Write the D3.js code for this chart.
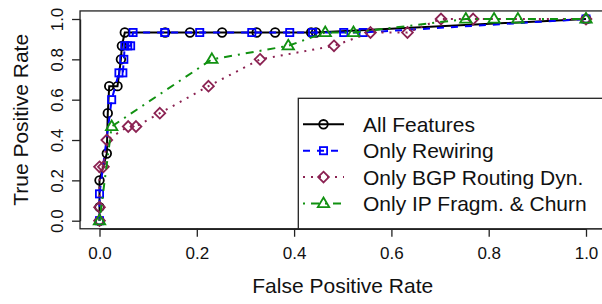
<!DOCTYPE html>
<html>
<head>
<meta charset="utf-8">
<script src="https://cdn.jsdelivr.net/npm/d3@7"></script>
<style>
  body { margin: 0; background: #fff; }
  svg { display: block; font-family: "Liberation Sans", Arial, Helvetica, sans-serif; }
</style>
</head>
<body>
<div id="chart"></div>
<script>
// ---------------------------------------------------------------
// Data
// ---------------------------------------------------------------
const series_names = ['All Features', 'Only Rewiring', 'Only BGP Routing Dyn.', 'Only IP Fragm. & Churn'];

const all_fpr = [0, 0, 0, 0.015, 0.017, 0.02, 0.037, 0.044, 0.046, 0.052, 0.135, 0.186, 0.252, 0.323, 0.361, 0.435, 0.445, 1];
const all_tpr = [0, 0.067, 0.2, 0.333, 0.533, 0.667, 0.667, 0.8, 0.867, 0.933, 0.933, 0.933, 0.933, 0.933, 0.933, 0.933, 0.933, 1];

const rew_fpr = [0, 0, 0.025, 0.04, 0.048, 0.05, 0.052, 0.058, 0.064, 0.069, 0.134, 0.206, 0.313, 0.391, 0.438, 0.502, 0.542, 1];
const rew_tpr = [0, 0.133, 0.6, 0.733, 0.733, 0.8, 0.867, 0.867, 0.867, 0.933, 0.933, 0.933, 0.933, 0.933, 0.933, 0.933, 0.933, 1];

const bgp_fpr = [0, 0, 0, 0.008, 0.015, 0.059, 0.075, 0.124, 0.224, 0.330, 0.482, 0.557, 0.633, 0.702, 0.768, 1];
const bgp_tpr = [0, 0.067, 0.267, 0.267, 0.4, 0.467, 0.467, 0.533, 0.667, 0.8, 0.867, 0.933, 0.933, 1, 1, 1];

const ipf_fpr = [0, 0.025, 0.231, 0.388, 0.464, 0.522, 0.753, 0.811, 0.86, 1];
const ipf_tpr = [0, 0.467, 0.8, 0.867, 0.933, 0.933, 1, 1, 1, 1];

const tick_values = [0, 0.2, 0.4, 0.6, 0.8, 1.0];

// ---------------------------------------------------------------
// Styling per series
// ---------------------------------------------------------------
const styles = [
  {color: '#000000', dash: null,        marker: 'circle'},
  {color: '#0000ff', dash: '7,7',       marker: 'square'},
  {color: '#8b2252', dash: '2,6',       marker: 'diamond'},
  {color: '#119111', dash: '2,6,8,6',   marker: 'triangle'},
];

const series = [
  {fpr: all_fpr, tpr: all_tpr},
  {fpr: rew_fpr, tpr: rew_tpr},
  {fpr: bgp_fpr, tpr: bgp_tpr},
  {fpr: ipf_fpr, tpr: ipf_tpr},
].map((s, i) => ({
  name: series_names[i],
  style: styles[i],
  points: s.fpr.map((f, j) => ({fpr: f, tpr: s.tpr[j]}))
}));

const width = 602, height = 304;

const x = d3.scaleLinear().domain([0, 1]).range([99.5, 586]);
const y = d3.scaleLinear().domain([0, 1]).range([220.7, 19]);

const svg = d3.select('#chart').append('svg')
  .attr('width', width)
  .attr('height', height);

// plot box (R adds 4% on each side)
const box = {x0: x(-0.04), x1: x(1.04), y0: y(1.04), y1: y(-0.04)};

svg.append('rect')
  .attr('x', box.x0)
  .attr('y', box.y0)
  .attr('width', box.x1 - box.x0)
  .attr('height', box.y1 - box.y0)
  .attr('fill', 'none')
  .attr('stroke', '#222')
  .attr('stroke-width', 1.3);

// axes
const x_axis = svg.append('g')
  .attr('transform', `translate(0,${box.y1})`)
  .call(d3.axisBottom(x).tickValues(tick_values).tickFormat(d3.format('.1f')).tickSize(8).tickSizeOuter(0).tickPadding(6));

const y_axis = svg.append('g')
  .attr('transform', `translate(${box.x0},0)`)
  .call(d3.axisLeft(y).tickValues(tick_values).tickFormat(d3.format('.1f')).tickSize(8).tickSizeOuter(0));

[x_axis, y_axis].forEach(g => {
  g.select('.domain').attr('stroke', '#222').attr('stroke-width', 1.3);
  g.selectAll('.tick line').attr('stroke', '#222').attr('stroke-width', 1.3);
  g.selectAll('.tick text')
    .attr('fill', '#111')
    .style('font-size', '17px')
    .style('font-family', '"Liberation Sans", Arial, sans-serif');
});

x_axis.selectAll('.tick text').attr('dy', null).attr('y', 30);

y_axis.selectAll('.tick text')
  .attr('x', null)
  .attr('dy', null)
  .attr('text-anchor', 'middle')
  .attr('transform', 'translate(-17,0) rotate(-90)');

// axis titles
svg.append('text')
  .attr('x', (box.x0 + box.x1) / 2)
  .attr('y', 293)
  .attr('text-anchor', 'middle')
  .style('font-size', '21px')
  .attr('fill', '#111')
  .text('False Positive Rate');

svg.append('text')
  .attr('transform', `translate(28,${(box.y0 + box.y1) / 2}) rotate(-90)`)
  .attr('text-anchor', 'middle')
  .style('font-size', '21px')
  .attr('fill', '#111')
  .text('True Positive Rate');

// markers
function draw_marker(g, type, cx, cy, color) {
  const sw = 1.8;
  if (type === 'circle') {
    g.append('circle').attr('cx', cx).attr('cy', cy).attr('r', 4.3)
      .attr('fill', 'none').attr('stroke', color).attr('stroke-width', sw);
  } else if (type === 'square') {
    g.append('rect').attr('x', cx - 3.6).attr('y', cy - 3.6).attr('width', 7.2).attr('height', 7.2)
      .attr('fill', 'none').attr('stroke', color).attr('stroke-width', sw);
  } else if (type === 'diamond') {
    const r = 5.4;
    g.append('path').attr('d', `M${cx},${cy - r}L${cx + r},${cy}L${cx},${cy + r}L${cx - r},${cy}Z`)
      .attr('fill', 'none').attr('stroke', color).attr('stroke-width', sw);
  } else {
    const r = 6;
    g.append('path').attr('d', `M${cx},${cy - r}L${cx + r * 0.95},${cy + r * 0.6}L${cx - r * 0.95},${cy + r * 0.6}Z`)
      .attr('fill', 'none').attr('stroke', color).attr('stroke-width', sw);
  }
}

const line = d3.line().x(d => x(d.fpr)).y(d => y(d.tpr));

const plot = svg.append('g');
series.forEach(s => {
  const g = plot.append('g');
  g.append('path')
    .datum(s.points)
    .attr('d', line)
    .attr('fill', 'none')
    .attr('stroke', s.style.color)
    .attr('stroke-width', 2)
    .attr('stroke-dasharray', s.style.dash);
  s.points.forEach(p => draw_marker(g, s.style.marker, x(p.fpr), y(p.tpr), s.style.color));
});

// legend (bottom right, inset 0)
const legend = svg.append('g');
legend.append('rect')
  .attr('x', 298.3)
  .attr('y', 98.3)
  .attr('width', box.x1 - 298.3)
  .attr('height', box.y1 - 98.3)
  .attr('fill', '#fff')
  .attr('stroke', '#222')
  .attr('stroke-width', 1.3);

series.forEach((s, i) => {
  const ry = 124.3 + i * 26.4;
  const g = legend.append('g');
  g.append('line')
    .attr('x1', 303).attr('x2', 344)
    .attr('y1', ry).attr('y2', ry)
    .attr('stroke', s.style.color)
    .attr('stroke-width', 2)
    .attr('stroke-dasharray', s.style.dash);
  draw_marker(g, s.style.marker, 323.5, ry, s.style.color);
  g.append('text')
    .attr('x', 363)
    .attr('y', ry + 7.5)
    .style('font-size', '21px')
    .attr('fill', '#111')
    .text(s.name);
});
</script>
</body>
</html>
